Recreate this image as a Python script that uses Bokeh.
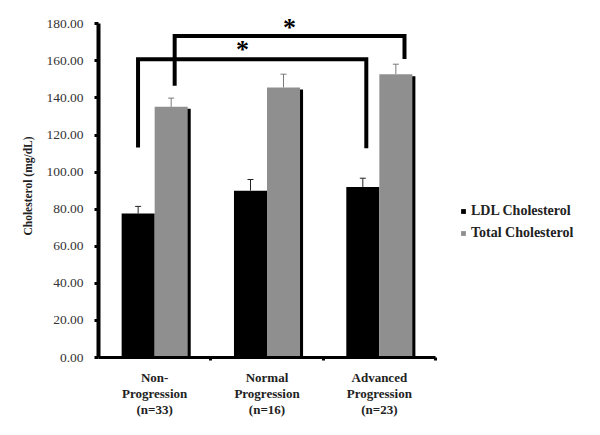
from bokeh.plotting import figure
from bokeh.models import (ColumnDataSource, FixedTicker, Whisker, TeeHead, Legend, LegendItem, Range1d)
from bokeh.core.properties import value
from bokeh.embed import file_html
from bokeh.resources import INLINE

# ---- data ----
groups = ["Non-\nProgression\n(n=33)", "Normal\nProgression\n(n=16)", "Advanced\nProgression\n(n=23)"]
ldl = [77.7, 90.0, 92.0]
ldl_err = [3.8, 6.0, 4.7]
total = [135.2, 145.6, 152.8]
total_err = [4.7, 7.2, 5.4]
y_ticks = [0, 20, 40, 60, 80, 100, 120, 140, 160, 180]
# significance brackets: (left x, right x, level, left leg bottom, right leg bottom)
brackets = [
    (0.352, 2.384, 160.8, 113.3, 112.8),
    (0.678, 2.724, 173.4, 146.6, 161.0),
]
stars_x = [1.282, 1.70]
stars_y = [168.5, 180.4]

SERIF = "Liberation Serif"
idx = list(range(len(groups)))
bw = 0.294
off = 0.147

# frame spans the plot and the legend area on the right; axis bounded to the 3 groups
p = figure(width=584, height=419, output_backend="svg", toolbar_location=None,
           x_range=Range1d(0, 4.3264), y_range=Range1d(0, 185),
           min_border_left=98, min_border_right=0, min_border_top=14, min_border_bottom=62)
p.outline_line_color = None
p.grid.grid_line_color = None
p.background_fill_color = "white"

xl = [i + 0.5 - off for i in idx]
xt = [i + 0.5 + off for i in idx]
src = ColumnDataSource(dict(xl=xl, xt=xt, xs=[x + 0.027 for x in xt],
                            ldl=ldl, total=total, tshadow=[t - 1.1 for t in total],
                            ldl_up=[a + b for a, b in zip(ldl, ldl_err)],
                            tot_up=[a + b for a, b in zip(total, total_err)]))

p.vbar(x="xs", top="tshadow", width=bw, source=src, fill_color="black", line_color=None)
r_ldl = p.vbar(x="xl", top="ldl", width=bw, source=src, fill_color="black", line_color=None)
r_tot = p.vbar(x="xt", top="total", width=bw, source=src, fill_color="#8f8f8f", line_color=None)

w1 = Whisker(source=src, base="xl", lower="ldl", upper="ldl_up", line_color="#222222", line_width=1,
             lower_head=None, upper_head=TeeHead(size=6, line_color="#222222", line_width=1))
w2 = Whisker(source=src, base="xt", lower="total", upper="tot_up", line_color="#7a7a7a", line_width=1,
             lower_head=None, upper_head=TeeHead(size=6, line_color="#7a7a7a", line_width=1))
p.add_layout(w1)
p.add_layout(w2)

bx = [[b[0], b[0], b[1], b[1]] for b in brackets]
by = [[b[3], b[2], b[2], b[4]] for b in brackets]
p.multi_line(bx, by, line_color="black", line_width=4, line_join="miter")

p.text(stars_x, stars_y, text=["*", "*"], text_font=value(SERIF), text_font_style="bold",
       text_font_size="26px", text_align="center", text_baseline="middle", y_offset=4)

# axes
ya = p.yaxis[0]
ya.ticker = FixedTicker(ticks=y_ticks)
ya.bounds = (0, 180)
ya.major_label_overrides = {t: f"{t:.2f}" for t in y_ticks}
ya.axis_line_width = 4
ya.axis_line_color = "black"
ya.major_tick_line_width = 3
ya.major_tick_out = 4
ya.major_tick_in = 0
ya.minor_tick_line_color = None
ya.major_label_text_font = SERIF
ya.major_label_text_font_size = "13.5px"
ya.major_label_text_color = "#333333"
ya.major_label_standoff = 11
ya.axis_label = "Cholesterol (mg/dL)"
ya.axis_label_text_font = SERIF
ya.axis_label_text_font_style = "bold"
ya.axis_label_text_font_size = "11.5px"
ya.axis_label_text_color = "#222222"
ya.axis_label_standoff = 9

xa = p.xaxis[0]
xa.bounds = (0, 3)
xa.ticker = FixedTicker(ticks=[i + 0.5 for i in idx], minor_ticks=[1, 2, 3])
xa.major_label_overrides = {i + 0.5: g for i, g in zip(idx, groups)}
xa.axis_line_width = 3
xa.axis_line_color = "black"
xa.major_tick_line_color = None
xa.major_tick_out = 0
xa.minor_tick_line_width = 3
xa.minor_tick_out = 3
xa.minor_tick_in = 0
xa.major_label_text_font = SERIF
xa.major_label_text_font_style = "bold"
xa.major_label_text_font_size = "13px"
xa.major_label_text_color = "#222222"
xa.major_label_text_line_height = 1.08
xa.major_label_standoff = 9

legend = Legend(items=[LegendItem(label="LDL Cholesterol", renderers=[r_ldl]),
                       LegendItem(label="Total Cholesterol", renderers=[r_tot])],
                location=(362, 116), border_line_color=None, background_fill_alpha=0,
                glyph_width=6, glyph_height=6, label_standoff=5, spacing=6,
                label_height=14, padding=0, margin=0,
                label_text_font=SERIF, label_text_font_style="bold",
                label_text_font_size="14px", label_text_color="#222222")
p.add_layout(legend)

open("out.html", "w").write(file_html(p, INLINE))
